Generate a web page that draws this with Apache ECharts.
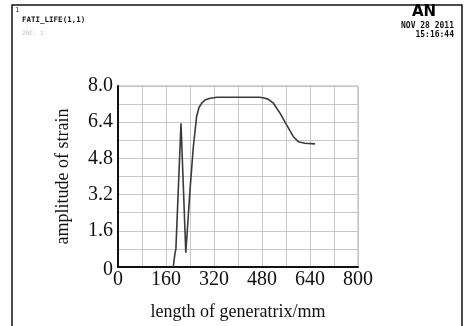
<!DOCTYPE html>
<html>
<head>
<meta charset="utf-8">
<script src="https://cdn.jsdelivr.net/npm/echarts@6/dist/echarts.min.js"></script>
<style>
  html, body { margin: 0; padding: 0; background: #fff; }
  #chart { width: 467px; height: 326px; }
</style>
</head>
<body>
<div id="chart"></div>
<script>
// length of generatrix (mm) and strain amplitude
var lengthMm = [184, 190, 193, 210, 226, 232, 240, 251, 262, 270, 279, 290, 307, 330, 400, 470, 484, 500, 518, 540, 562, 584, 601, 623, 657];
var strainAmp = [0, 0.6, 0.8, 6.35, 0.63, 1.8, 3.4, 5.3, 6.65, 7.05, 7.24, 7.38, 7.46, 7.5, 7.5, 7.5, 7.48, 7.42, 7.24, 6.8, 6.28, 5.77, 5.54, 5.47, 5.44];
var xTicks = [0, 160, 320, 480, 640, 800];
var yTicks = [0, 1.6, 3.2, 4.8, 6.4, 8.0];

var chart = echarts.init(document.getElementById('chart'));

var pts = lengthMm.map(function (x, i) { return [x, strainAmp[i]]; });
var serif = 'Liberation Serif';
var mono = 'DejaVu Sans Mono';

var option = {
  animation: false,
  grid: { left: 118, right: 109, top: 86, bottom: 59, show: true, borderColor: '#aaa', borderWidth: 1 },
  xAxis: {
    type: 'value',
    min: xTicks[0], max: xTicks[xTicks.length - 1], interval: 160,
    name: 'length of generatrix/mm',
    nameLocation: 'middle', nameGap: 36,
    nameTextStyle: { fontFamily: serif, fontSize: 18, color: '#111' },
    axisLine: { lineStyle: { color: '#111', width: 2 } },
    axisTick: { show: false },
    axisLabel: { fontFamily: serif, fontSize: 20, color: '#111', margin: 3 },
    splitLine: { lineStyle: { color: '#c8c8c8', width: 1 } },
    minorTick: { show: false, splitNumber: 2 },
    minorSplitLine: { show: true, lineStyle: { color: '#c8c8c8', width: 1 } }
  },
  yAxis: {
    type: 'value',
    min: yTicks[0], max: yTicks[yTicks.length - 1], interval: 1.6,
    name: 'amplitude of strain',
    nameLocation: 'middle', nameGap: 46,
    nameTextStyle: { fontFamily: serif, fontSize: 18, color: '#111' },
    axisLine: { show: true, lineStyle: { color: '#111', width: 2 } },
    axisTick: { show: false },
    axisLabel: {
      fontFamily: serif, fontSize: 20, color: '#111', margin: 5,
      formatter: function (v) { return v === 0 ? '{z|0}' : v.toFixed(1); },
      rich: { z: { fontFamily: serif, fontSize: 20, color: '#111', padding: [6, 0, 0, 0] } }
    },
    splitLine: { lineStyle: { color: '#c8c8c8', width: 1 } },
    minorTick: { show: false, splitNumber: 2 },
    minorSplitLine: { show: true, lineStyle: { color: '#c8c8c8', width: 1 } }
  },
  series: [{
    type: 'line',
    data: pts,
    showSymbol: false,
    smooth: false,
    lineStyle: { color: '#3a3a3a', width: 1.6 }
  }],
  graphic: [
    { type: 'rect', shape: { x: 12, y: 5, width: 450, height: 330 },
      style: { fill: 'none', stroke: '#111', lineWidth: 1.5 }, silent: true },
    { type: 'text', left: 15, top: 7, style: { text: '1', font: '7px ' + mono, fill: '#333' } },
    { type: 'text', left: 22, top: 16, style: { text: 'FATI_LIFE(1,1)', font: 'bold 7.5px ' + mono, fill: '#111' } },
    { type: 'text', left: 22, top: 30, style: { text: '20C. 1', font: '6px ' + mono, fill: '#bbb' } },
    { type: 'text', left: 412, top: 5, style: { text: 'AN', font: 'bold 15px "DejaVu Sans"', fill: '#000' } },
    { type: 'text', right: 13, top: 22, style: { text: 'NOV 28 2011', font: 'bold 8px ' + mono, fill: '#111' } },
    { type: 'text', right: 13, top: 31, style: { text: '15:16:44', font: 'bold 8px ' + mono, fill: '#111' } }
  ]
};

chart.setOption(option);
</script>
</body>
</html>
